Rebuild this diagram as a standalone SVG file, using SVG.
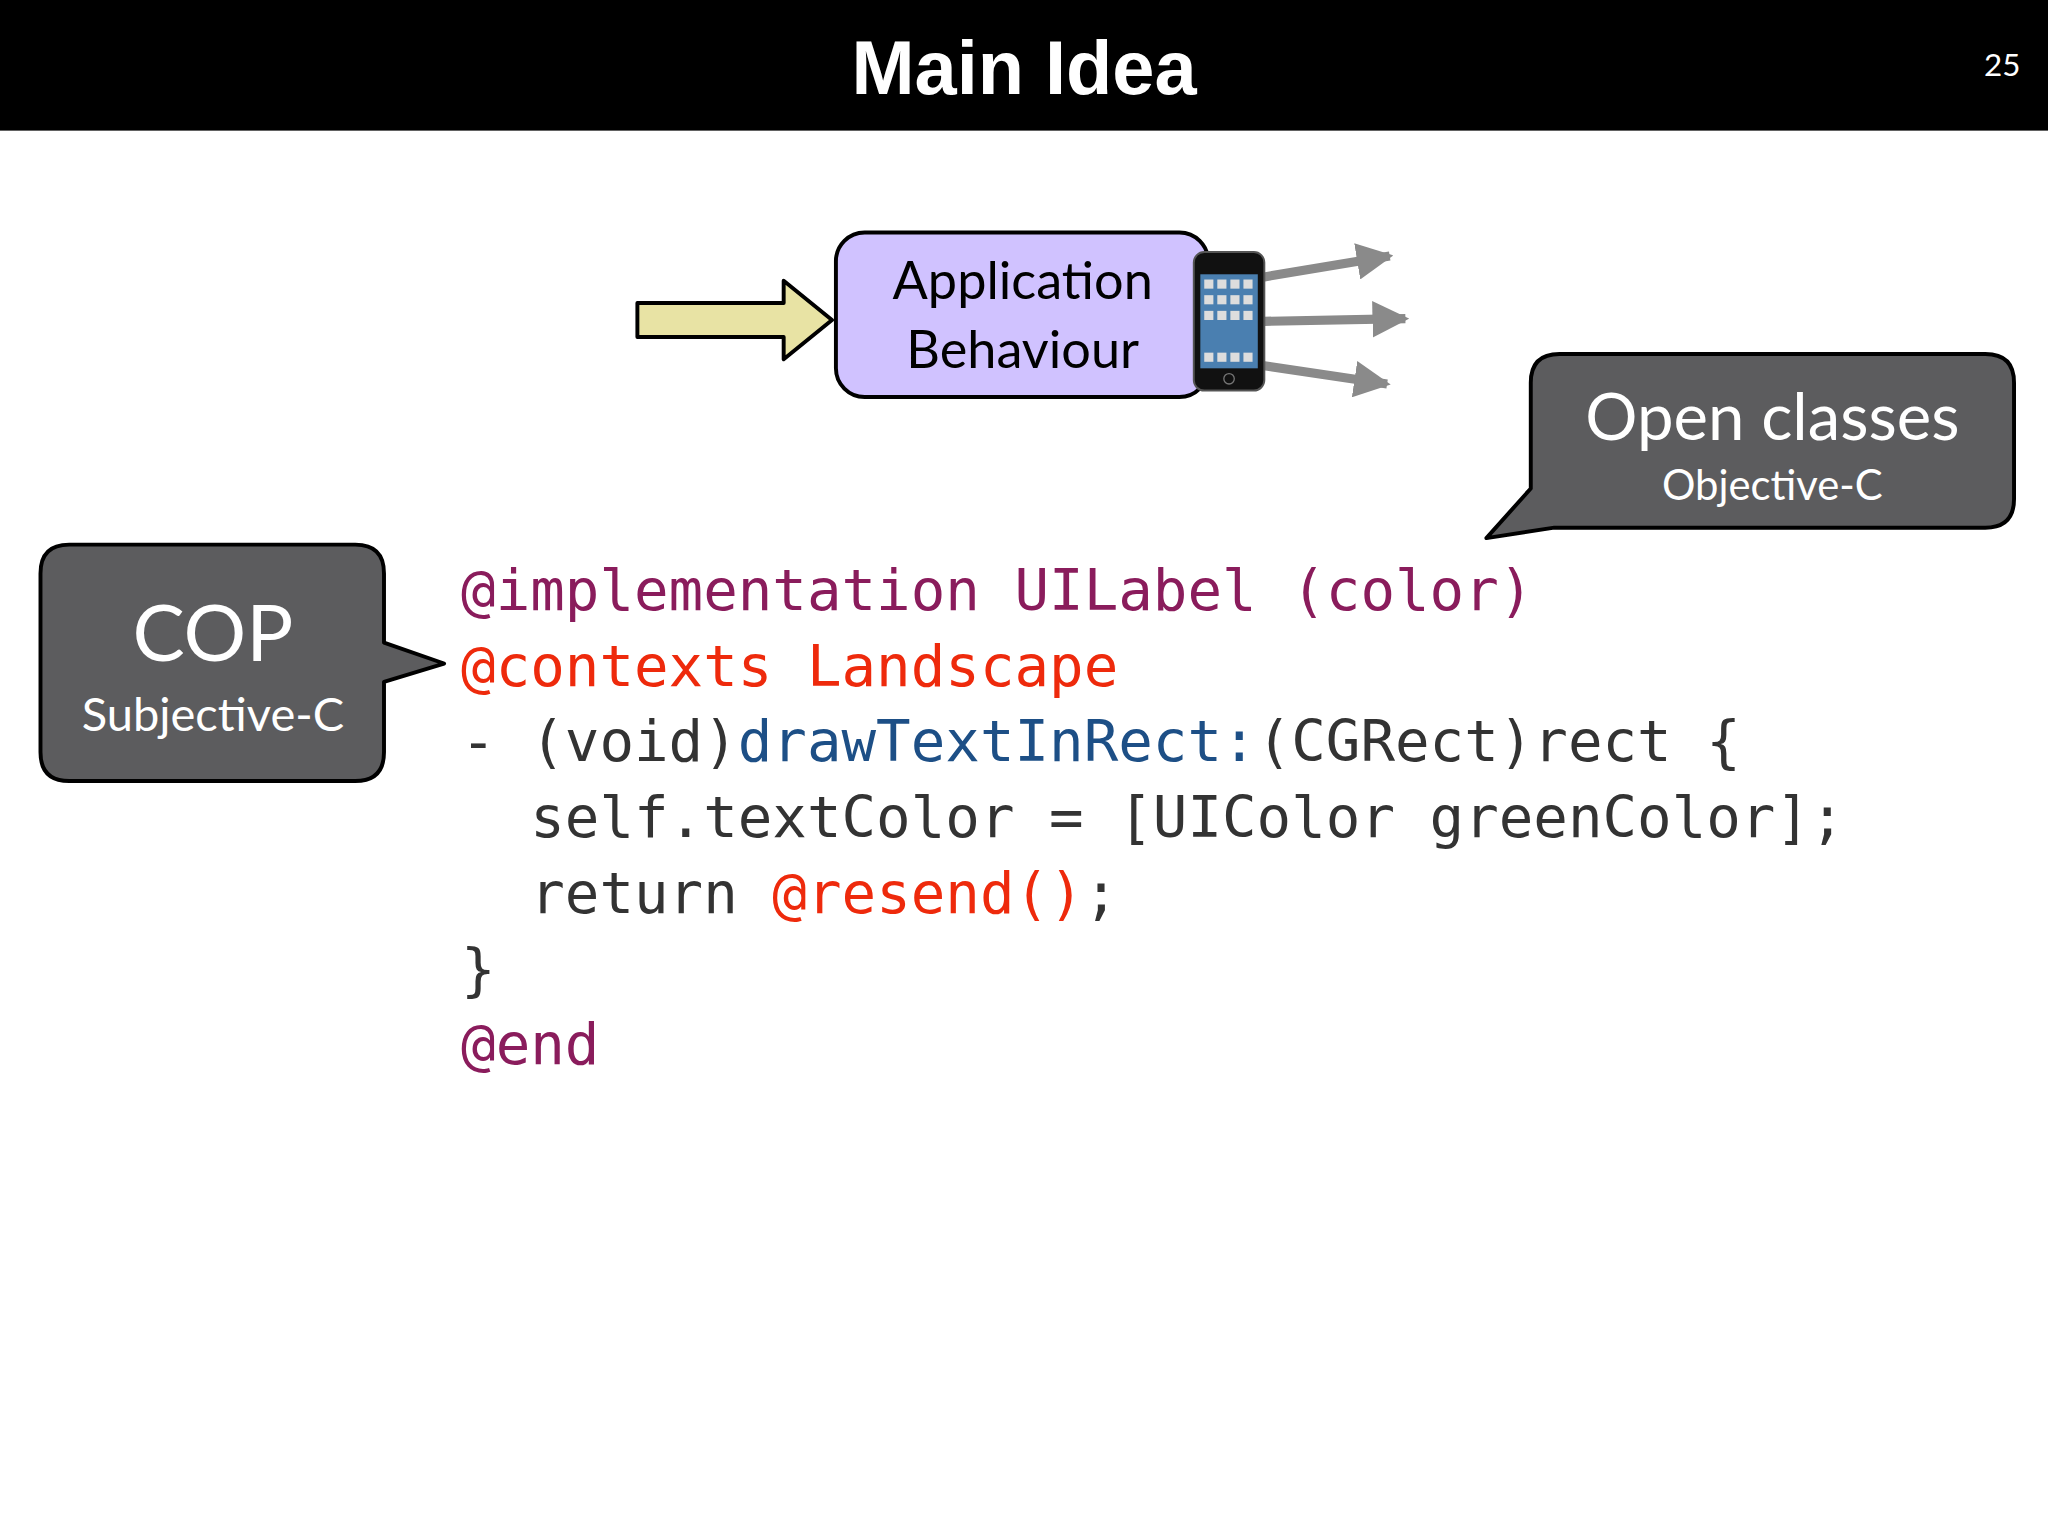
<svg xmlns="http://www.w3.org/2000/svg" width="2048" height="1536" viewBox="0 0 2048 1536">
<defs>
<style>
.code{font-family:"DejaVu Sans Mono",monospace;font-size:44px;fill:#333}
.p{fill:#8a1c5c}.r{fill:#ee2a0c}.b{fill:#1d4f86}
.bub{fill:#5c5c5e;stroke:#000;stroke-width:3;stroke-linejoin:round}
.bt{font-family:Lato,"Open Sans",sans-serif;fill:#fff;text-anchor:middle}
</style>
<marker id="ah" viewBox="0 0 10 10" refX="9" refY="5" markerWidth="4" markerHeight="4" orient="auto"><path d="M0,0 L10,5 L0,10 z" fill="#8a8a8a"/></marker>
</defs>
<rect width="2048" height="1536" fill="#fff"/>
<g transform="scale(1.30612)">
<g id="title">
<rect x="0" y="0" width="1568" height="100" fill="#000"/>
<text x="784" y="72" font-family="Liberation Sans,Arial,sans-serif" font-weight="bold" font-size="58" fill="#fff" text-anchor="middle">Main Idea</text>
<text x="1533" y="58" font-family="Lato,sans-serif" font-size="24" fill="#fff" text-anchor="middle">25</text>
</g>
<g id="connectors">
<path d="M488,232 L600,232 L600,215 L637,245 L600,275 L600,258 L488,258 Z" fill="#e8e3a4" stroke="#000" stroke-width="3" stroke-linejoin="round"/>
<g stroke="#8a8a8a" stroke-width="7" marker-end="url(#ah)" fill="none">
<line x1="968" y1="212" x2="1064" y2="196"/>
<line x1="968" y1="246" x2="1076" y2="244"/>
<line x1="968" y1="280" x2="1062" y2="294"/>
</g>
</g>
<g id="app">
<rect x="640" y="178" width="285" height="126" rx="22" fill="#d0c2ff" stroke="#000" stroke-width="3"/>
<text x="783" y="229" font-family="Lato,sans-serif" font-size="40" text-anchor="middle" fill="#000">Application</text>
<text x="783" y="282" font-family="Lato,sans-serif" font-size="40" text-anchor="middle" fill="#000">Behaviour</text>
</g>
<g id="phone">
<rect x="914" y="193" width="54" height="106" rx="8" fill="#111" stroke="#555" stroke-width="1.5"/>
<rect x="919" y="210" width="44" height="72" fill="#4a7fb0"/>
<g fill="#ddd"><rect x="922" y="214" width="7" height="7"/><rect x="932" y="214" width="7" height="7"/><rect x="942" y="214" width="7" height="7"/><rect x="952" y="214" width="7" height="7"/>
<rect x="922" y="226" width="7" height="7"/><rect x="932" y="226" width="7" height="7"/><rect x="942" y="226" width="7" height="7"/><rect x="952" y="226" width="7" height="7"/>
<rect x="922" y="238" width="7" height="7"/><rect x="932" y="238" width="7" height="7"/><rect x="942" y="238" width="7" height="7"/><rect x="952" y="238" width="7" height="7"/>
<rect x="922" y="270" width="7" height="7"/><rect x="932" y="270" width="7" height="7"/><rect x="942" y="270" width="7" height="7"/><rect x="952" y="270" width="7" height="7"/></g>
<circle cx="941" cy="290" r="4" fill="none" stroke="#777" stroke-width="1"/>
</g>
<g id="cop">
<path class="bub" d="M53,417 L272,417 Q294,417 294,439 L294,492 L340,508 L294,522 L294,576 Q294,598 272,598 L53,598 Q31,598 31,576 L31,439 Q31,417 53,417 Z"/>
<text class="bt" x="163" y="506" font-size="60">COP</text>
<text class="bt" x="163" y="560" font-size="36">Subjective-C</text>
</g>
<g id="open">
<path class="bub" d="M1194,271 L1520,271 Q1542,271 1542,293 L1542,382 Q1542,404 1520,404 L1190,404 L1138,412 L1172,374 L1172,293 Q1172,271 1194,271 Z"/>
<text class="bt" x="1357" y="337" font-size="50">Open classes</text>
<text class="bt" x="1357" y="383" font-size="32">Objective-C</text>
</g>
<g id="code" class="code">
<text x="353" y="467"><tspan class="p">@implementation UILabel (color)</tspan></text>
<text x="353" y="525"><tspan class="r">@contexts Landscape</tspan></text>
<text x="353" y="583" xml:space="preserve">- (void)<tspan class="b">drawTextInRect:</tspan>(CGRect)rect {</text>
<text x="353" y="641" xml:space="preserve">  self.textColor = [UIColor greenColor];</text>
<text x="353" y="699" xml:space="preserve">  return <tspan class="r">@resend()</tspan>;</text>
<text x="353" y="757">}</text>
<text x="353" y="815"><tspan class="p">@end</tspan></text>
</g>
</g>
</svg>
